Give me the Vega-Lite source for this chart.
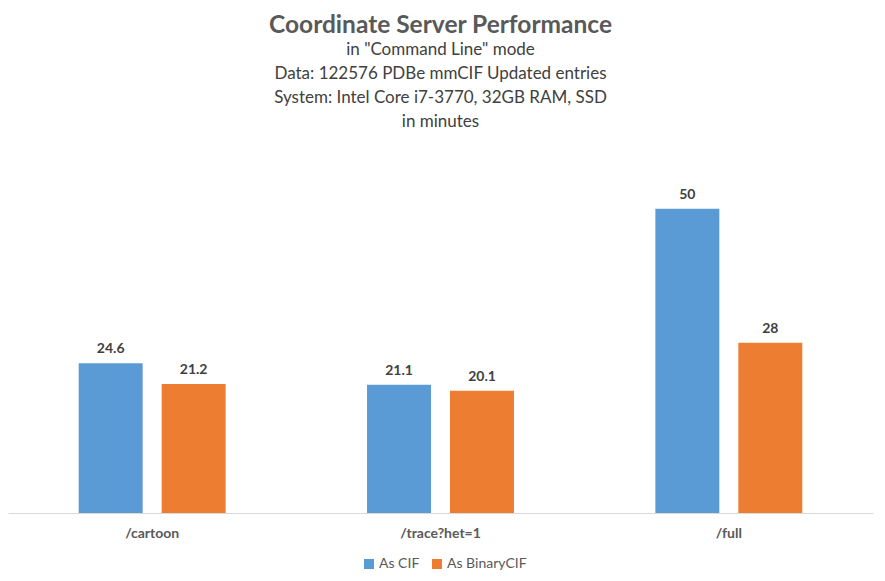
{
  "$schema": "https://vega.github.io/schema/vega-lite/v6.json",
  "width": 865,
  "height": 365,
  "autosize": {"type": "none"},
  "padding": {"left": 8, "top": 148, "right": 12, "bottom": 68},
  "background": "white",
  "title": {
    "text": "Coordinate Server Performance",
    "subtitle": ["in \"Command Line\" mode", "Data: 122576 PDBe mmCIF Updated entries", "System: Intel Core i7-3770, 32GB RAM, SSD", "in minutes"],
    "anchor": "middle",
    "frame": "group",
    "font": "Lato",
    "fontSize": 24.5,
    "fontWeight": "bold",
    "color": "#595959",
    "subtitleFont": "Lato",
    "subtitleFontSize": 17,
    "subtitleColor": "#404040",
    "subtitleLineHeight": 24,
    "subtitlePadding": 4,
    "offset": 17
  },
  "data": {
    "values": [
      {"endpoint": "/cartoon", "format": "As CIF", "minutes": 24.6},
      {"endpoint": "/cartoon", "format": "As BinaryCIF", "minutes": 21.2},
      {"endpoint": "/trace?het=1", "format": "As CIF", "minutes": 21.1},
      {"endpoint": "/trace?het=1", "format": "As BinaryCIF", "minutes": 20.1},
      {"endpoint": "/full", "format": "As CIF", "minutes": 50},
      {"endpoint": "/full", "format": "As BinaryCIF", "minutes": 28}
    ]
  },
  "encoding": {
    "x": {
      "field": "endpoint",
      "type": "nominal",
      "sort": ["/cartoon", "/trace?het=1", "/full"],
      "scale": {"paddingInner": 0, "paddingOuter": 0},
      "axis": {
        "title": null,
        "labelAngle": 0,
        "ticks": false,
        "domainColor": "#d9d9d9",
        "domainWidth": 1,
        "labelFont": "Lato",
        "labelFontSize": 14,
        "labelFontWeight": "bold",
        "labelColor": "#595959",
        "labelPadding": 13
      }
    },
    "xOffset": {
      "field": "format",
      "type": "nominal",
      "sort": ["As CIF", "As BinaryCIF"],
      "scale": {"paddingInner": 0.229, "paddingOuter": 0.852}
    },
    "y": {
      "field": "minutes",
      "type": "quantitative",
      "scale": {"domain": [0, 60]},
      "axis": null
    }
  },
  "layer": [
    {
      "mark": {"type": "bar"},
      "encoding": {
        "color": {
          "field": "format",
          "type": "nominal",
          "sort": ["As CIF", "As BinaryCIF"],
          "scale": {"domain": ["As CIF", "As BinaryCIF"], "range": ["#5B9BD5", "#ED7D31"]},
          "legend": {
            "title": null,
            "orient": "none",
            "legendX": 354,
            "legendY": 409,
            "direction": "horizontal",
            "symbolType": "square",
            "symbolSize": 100,
            "symbolStrokeWidth": 0,
            "labelFont": "Lato",
            "labelFontSize": 14,
            "labelColor": "#595959",
            "labelOffset": 3,
            "columnPadding": 10
          }
        }
      }
    },
    {
      "mark": {"type": "text", "dy": -14, "font": "Lato", "fontSize": 14, "fontWeight": "bold", "color": "#404040"},
      "encoding": {
        "text": {"field": "minutes", "type": "quantitative"}
      }
    }
  ],
  "config": {"view": {"stroke": null}}
}
